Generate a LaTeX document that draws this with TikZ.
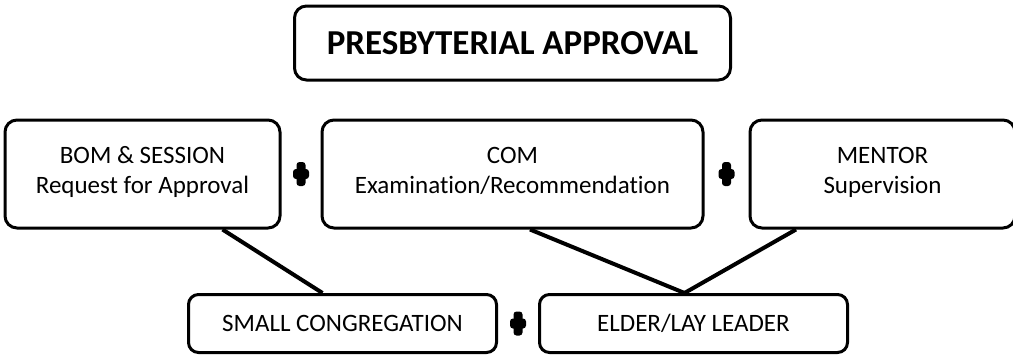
\documentclass[tikz,border=0pt]{standalone}
\usepackage{fontspec}
\setmainfont{Carlito}[Ligatures=NoCommon]
\usetikzlibrary{positioning,calc}

\begin{document}
\begin{tikzpicture}[x=1pt,y=1pt,
  box/.style = {draw, line width=3pt, rounded corners=12pt, align=center, minimum height=108pt, text depth=8pt, font=\fontsize{25}{30}\selectfont},
  lowbox/.style = {draw, line width=3pt, rounded corners=10pt, minimum width=308pt, minimum height=58pt, font=\fontsize{25}{30}\selectfont},
  link/.style = {line width=4pt},
  plus/.style = {inner sep=0pt, minimum width=16pt, minimum height=24pt,
    path picture={
      \fill[rounded corners=3pt] ([xshift=-4.5pt]path picture bounding box.north) rectangle ([xshift=4.5pt]path picture bounding box.south);
      \fill[rounded corners=3pt] ([yshift=5pt]path picture bounding box.west) rectangle ([yshift=-5pt]path picture bounding box.east);}}]
\useasboundingbox (0,0) rectangle (1013,-354);
\node[box] (com) at (512.5,-174) [minimum width=381pt] {COM\\Examination/Recommendation};
\node[box] (bom) [left=39pt of com, minimum width=275pt] {BOM \& SESSION\\Request for Approval};
\node[box] (mentor) [right=44pt of com, minimum width=265pt] {MENTOR\\Supervision};
\node[draw, line width=3pt, rounded corners=12pt, minimum width=436pt, minimum height=74pt, font=\fontsize{35}{42}\selectfont\bfseries] (title) [above=37pt of com] {PRESBYTERIAL APPROVAL};
\node[lowbox] (small) at (342.5,-323.5) {SMALL CONGREGATION};
\node[lowbox] (elder) [right=40pt of small] {ELDER/LAY LEADER};
\node[plus] (p1) at ($(bom.east)!0.5!(com.west)$) {};
\node[plus] (p2) at ($(com.east)!0.5!(mentor.west)$) {};
\node[plus] (p3) at ($(small.east)!0.5!(elder.west)$) {};
\draw[link] ([xshift=80pt]bom.south) -- ([xshift=-20pt]small.north);
\draw[link] ([xshift=17.5pt]com.south) -- ([xshift=-9pt]elder.north);
\draw[link] ([xshift=-86.5pt]mentor.south) -- ([xshift=-9pt]elder.north);
\end{tikzpicture}
\end{document}
